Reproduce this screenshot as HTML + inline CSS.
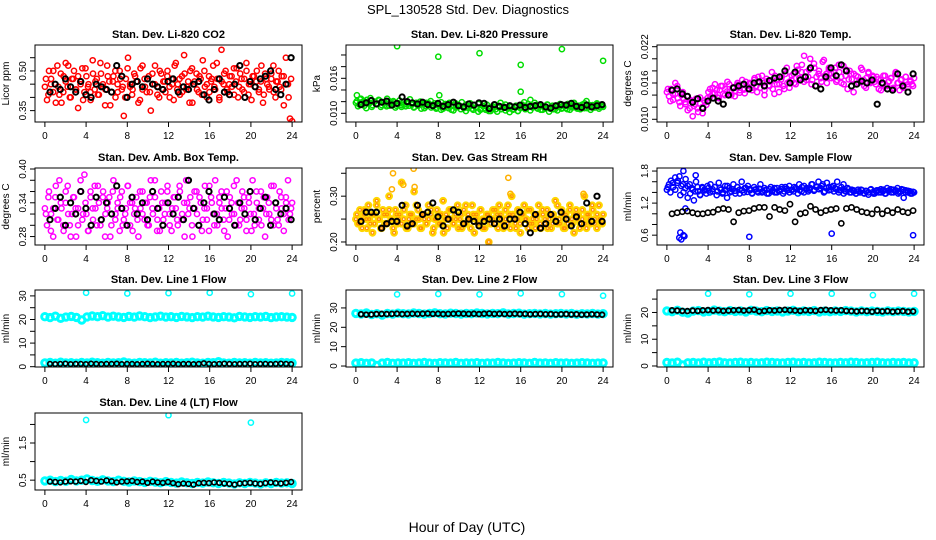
<!DOCTYPE html>
<html><head><meta charset="utf-8"><title>SPL_130528 Std. Dev. Diagnostics</title>
<style>
html,body{margin:0;padding:0;background:#fff;}
svg{display:block;font-family:"Liberation Sans",Arial,sans-serif;}
</style></head>
<body>
<svg id="chart" width="936" height="540" viewBox="0 0 936 540" xmlns="http://www.w3.org/2000/svg">
<rect x="0" y="0" width="936" height="540" fill="#fff"/>
<text x="468" y="14" font-size="13" text-anchor="middle">SPL_130528  Std. Dev. Diagnostics</text>
<text x="467" y="532" font-size="14" text-anchor="middle">Hour of Day (UTC)</text>
</svg>
<script>
// ---------- data ----------
const xTicks = [0,4,8,12,16,20,24];

const co2Red = [0.44,0.39,0.50,0.47,0.42,0.45,0.52,0.41,0.38,0.48,0.53,0.44,0.40,0.47,0.50,0.43,0.36,0.46,0.51,0.42,0.48,0.45,0.39,0.54,0.43,0.47,0.41,0.49,0.44,0.37,0.52,0.46,0.42,0.48,0.40,0.45,0.50,0.43,0.33,0.47,0.55,0.44,0.41,0.49,0.46,0.38,0.51,0.43,0.47,0.42,0.48,0.35,0.45,0.52,0.44,0.40,0.49,0.46,0.42,0.50,0.44,0.47,0.39,0.53,0.45,0.41,0.48,0.56,0.43,0.46,0.50,0.38,0.45,0.49,0.42,0.47,0.54,0.44,0.40,0.48,0.46,0.52,0.43,0.47,0.39,0.58,0.45,0.50,0.42,0.48,0.44,0.51,0.46,0.40,0.49,0.43,0.47,0.53,0.41,0.45,0.48,0.44,0.50,0.42,0.46,0.38,0.49,0.45,0.43,0.47,0.52,0.40,0.46,0.44,0.48,0.37,0.55,0.45,0.32,0.31];
const co2Red2 = [0.47,0.41,0.45,0.50,0.38,0.44,0.49,0.42,0.46,0.52,0.40,0.47,0.43,0.48,0.45,0.39,0.51,0.44,0.42,0.49,0.46,0.41,0.53,0.45,0.43,0.48,0.37,0.46,0.50,0.42,0.47,0.44,0.40,0.51,0.45,0.43,0.48,0.46,0.39,0.52,0.44,0.47,0.42,0.49,0.45,0.41,0.50,0.43,0.46,0.48,0.40,0.45,0.52,0.43,0.47,0.42,0.49,0.44,0.38,0.51,0.46,0.43,0.48,0.41,0.50,0.45,0.42,0.47,0.44,0.53,0.40,0.46,0.49,0.43,0.45,0.48,0.41,0.51,0.44,0.47,0.42,0.50,0.45,0.39,0.48,0.46,0.43,0.52,0.41,0.47,0.44,0.49,0.42,0.46,0.50,0.43,0.48,0.45,0.40,0.47];
const co2Black = [0.42,0.45,0.43,0.47,0.44,0.42,0.46,0.41,0.40,0.45,0.44,0.43,0.42,0.52,0.48,0.40,0.45,0.46,0.44,0.47,0.45,0.44,0.43,0.46,0.47,0.42,0.44,0.43,0.45,0.46,0.41,0.39,0.43,0.47,0.42,0.41,0.45,0.52,0.40,0.46,0.44,0.47,0.48,0.50,0.43,0.41,0.45,0.55];

const presGreen = [0.0118,0.0112,0.0124,0.0116,0.0121,0.0109,0.0119,0.0126,0.0114,0.0120,0.0117,0.0123,0.0111,0.0119,0.0115,0.0125,0.0113,0.0118,0.0121,0.0110,0.0116,0.0122,0.0114,0.0119,0.0112,0.0117,0.0124,0.0115,0.0111,0.0118,0.0113,0.0120,0.0116,0.0109,0.0118,0.0114,0.0121,0.0112,0.0117,0.0110,0.0115,0.0119,0.0108,0.0116,0.0112,0.0118,0.0106,0.0114,0.0117,0.0111,0.0113,0.0119,0.0109,0.0115,0.0112,0.0117,0.0108,0.0114,0.0110,0.0116,0.0106,0.0113,0.0109,0.0115,0.0104,0.0111,0.0108,0.0114,0.0103,0.0110,0.0107,0.0112,0.0105,0.0109,0.0102,0.0111,0.0107,0.0113,0.0104,0.0110,0.0115,0.0119,0.0108,0.0116,0.0123,0.0112,0.0118,0.0110,0.0114,0.0106,0.0112,0.0108,0.0115,0.0103,0.0110,0.0107,0.0113,0.0105,0.0111,0.0108,0.0114,0.0109,0.0116,0.0106,0.0112,0.0118,0.0110,0.0113,0.0107,0.0115,0.0109,0.0121,0.0111,0.0106,0.0114,0.0110,0.0117,0.0108,0.0113,0.0111];
const presGreen2 = [0.0121,0.0115,0.0119,0.0113,0.0123,0.0117,0.0111,0.0120,0.0116,0.0122,0.0114,0.0118,0.0112,0.0121,0.0116,0.0119,0.0113,0.0117,0.0111,0.0115,0.0119,0.0113,0.0116,0.0110,0.0118,0.0114,0.0108,0.0116,0.0112,0.0117,0.0110,0.0114,0.0108,0.0113,0.0106,0.0111,0.0115,0.0109,0.0112,0.0105,0.0110,0.0114,0.0107,0.0111,0.0104,0.0109,0.0113,0.0106,0.0110,0.0103,0.0108,0.0112,0.0106,0.0109,0.0104,0.0111,0.0107,0.0113,0.0118,0.0110,0.0115,0.0108,0.0112,0.0106,0.0110,0.0104,0.0109,0.0113,0.0107,0.0111,0.0105,0.0110,0.0114,0.0108,0.0112,0.0106,0.0111,0.0115,0.0108,0.0113,0.0107,0.0111,0.0116,0.0109,0.0113,0.0107,0.0112,0.0110,0.0115,0.0108,0.0113,0.0111,0.0117,0.0109,0.0114,0.0110,0.0112,0.0116,0.0111,0.0113];
const presBlack = [0.0115,0.0118,0.0122,0.0116,0.0119,0.0121,0.0114,0.0117,0.0128,0.0120,0.0118,0.0116,0.0119,0.0115,0.0113,0.0117,0.0112,0.0115,0.0119,0.0113,0.0111,0.0116,0.0114,0.0118,0.0117,0.0108,0.0115,0.0112,0.0110,0.0113,0.0111,0.0114,0.0110,0.0112,0.0113,0.0115,0.0111,0.0109,0.0113,0.0115,0.0114,0.0117,0.0112,0.0110,0.0114,0.0111,0.0113,0.0115];
const presOutHours = [0.1,0.5,4,8,8.1,12,16,16,20,24];
const presOutVals = [0.0131,0.0125,0.0215,0.0197,0.0131,0.0203,0.0183,0.0137,0.0210,0.0190];

const tempMag = [0.0145,0.0138,0.0150,0.0132,0.0142,0.0155,0.0128,0.0140,0.0135,0.0125,0.0138,0.0118,0.0130,0.0122,0.0134,0.0112,0.0126,0.0120,0.0131,0.0124,0.0145,0.0138,0.0152,0.0143,0.0148,0.0135,0.0155,0.0142,0.0150,0.0146,0.0158,0.0140,0.0153,0.0147,0.0160,0.0144,0.0156,0.0149,0.0162,0.0151,0.0158,0.0148,0.0165,0.0155,0.0170,0.0152,0.0160,0.0140,0.0167,0.0156,0.0162,0.0150,0.0172,0.0158,0.0145,0.0166,0.0155,0.0175,0.0160,0.0152,0.0165,0.0175,0.0158,0.0182,0.0168,0.0190,0.0162,0.0178,0.0170,0.0200,0.0165,0.0185,0.0155,0.0175,0.0168,0.0195,0.0172,0.0160,0.0182,0.0176,0.0170,0.0185,0.0165,0.0178,0.0160,0.0188,0.0172,0.0150,0.0180,0.0166,0.0175,0.0158,0.0170,0.0164,0.0182,0.0155,0.0168,0.0176,0.0160,0.0172,0.0162,0.0170,0.0150,0.0165,0.0158,0.0172,0.0155,0.0163,0.0168,0.0152,0.0175,0.0160,0.0148,0.0166,0.0157,0.0170,0.0153,0.0162,0.0158,0.0168];
const tempMag2 = [0.0150,0.0130,0.0142,0.0160,0.0135,0.0122,0.0145,0.0128,0.0115,0.0132,0.0105,0.0125,0.0118,0.0136,0.0110,0.0128,0.0135,0.0150,0.0142,0.0158,0.0136,0.0148,0.0155,0.0140,0.0162,0.0145,0.0152,0.0138,0.0157,0.0148,0.0165,0.0143,0.0155,0.0160,0.0152,0.0168,0.0145,0.0160,0.0172,0.0148,0.0163,0.0155,0.0178,0.0142,0.0165,0.0158,0.0170,0.0150,0.0185,0.0162,0.0172,0.0160,0.0188,0.0168,0.0178,0.0205,0.0165,0.0182,0.0158,0.0192,0.0170,0.0180,0.0162,0.0198,0.0175,0.0185,0.0168,0.0178,0.0162,0.0190,0.0170,0.0158,0.0182,0.0166,0.0175,0.0145,0.0172,0.0160,0.0185,0.0165,0.0152,0.0178,0.0162,0.0170,0.0158,0.0166,0.0148,0.0172,0.0155,0.0162,0.0168,0.0150,0.0178,0.0160,0.0165,0.0152,0.0170,0.0158,0.0164,0.0155];
const tempBlack = [0.0148,0.0150,0.0142,0.0138,0.0128,0.0134,0.0118,0.0130,0.0135,0.0130,0.0125,0.0140,0.0152,0.0155,0.0158,0.0150,0.0160,0.0162,0.0155,0.0164,0.0168,0.0170,0.0180,0.0160,0.0178,0.0165,0.0170,0.0185,0.0155,0.0150,0.0170,0.0185,0.0172,0.0190,0.0180,0.0155,0.0158,0.0163,0.0160,0.0165,0.0125,0.0160,0.0150,0.0148,0.0175,0.0155,0.0145,0.0175];

const ambMag = [0.33,0.30,0.36,0.32,0.28,0.35,0.31,0.38,0.33,0.29,0.34,0.37,0.30,0.32,0.35,0.28,0.33,0.36,0.31,0.39,0.32,0.29,0.35,0.33,0.37,0.30,0.34,0.31,0.36,0.28,0.33,0.35,0.30,0.38,0.32,0.34,0.29,0.36,0.31,0.33,0.37,0.30,0.34,0.32,0.35,0.28,0.33,0.36,0.31,0.34,0.30,0.38,0.32,0.35,0.29,0.33,0.36,0.31,0.34,0.37,0.32,0.29,0.35,0.33,0.30,0.36,0.31,0.34,0.38,0.32,0.35,0.28,0.33,0.36,0.30,0.34,0.31,0.37,0.33,0.29,0.35,0.32,0.38,0.30,0.34,0.36,0.31,0.33,0.28,0.35,0.32,0.37,0.30,0.34,0.31,0.36,0.33,0.29,0.35,0.32,0.38,0.30,0.34,0.31,0.36,0.33,0.28,0.35,0.32,0.37,0.30,0.34,0.31,0.36,0.33,0.29,0.35,0.38,0.32,0.34];
const ambMag2 = [0.32,0.35,0.29,0.33,0.37,0.31,0.34,0.30,0.36,0.32,0.28,0.35,0.33,0.30,0.38,0.32,0.34,0.29,0.36,0.31,0.33,0.37,0.30,0.35,0.32,0.34,0.28,0.36,0.31,0.33,0.35,0.30,0.32,0.37,0.34,0.29,0.33,0.31,0.36,0.32,0.34,0.30,0.35,0.33,0.38,0.31,0.29,0.34,0.32,0.36,0.30,0.33,0.35,0.31,0.37,0.32,0.28,0.34,0.33,0.30,0.36,0.32,0.35,0.29,0.33,0.31,0.37,0.34,0.30,0.32,0.35,0.33,0.29,0.36,0.31,0.34,0.32,0.38,0.30,0.33,0.35,0.31,0.34,0.29,0.32,0.36,0.33,0.30,0.35,0.32,0.34,0.31,0.37,0.33,0.30,0.35,0.32,0.34,0.31,0.33];
const ambBlack = [0.31,0.33,0.35,0.30,0.34,0.32,0.36,0.33,0.30,0.35,0.31,0.34,0.32,0.37,0.33,0.30,0.35,0.32,0.34,0.31,0.36,0.33,0.30,0.34,0.32,0.35,0.31,0.38,0.33,0.30,0.34,0.36,0.32,0.31,0.35,0.33,0.30,0.34,0.32,0.36,0.31,0.33,0.35,0.30,0.34,0.32,0.33,0.31];

const rhOrange = [0.25,0.24,0.27,0.23,0.26,0.25,0.28,0.24,0.22,0.26,0.29,0.25,0.23,0.27,0.24,0.26,0.30,0.25,0.23,0.27,0.24,0.26,0.33,0.25,0.28,0.23,0.26,0.24,0.31,0.25,0.27,0.23,0.26,0.25,0.24,0.28,0.26,0.22,0.25,0.27,0.24,0.26,0.29,0.25,0.23,0.27,0.25,0.24,0.26,0.28,0.25,0.23,0.27,0.24,0.26,0.25,0.28,0.22,0.26,0.24,0.27,0.25,0.23,0.26,0.20,0.25,0.27,0.24,0.26,0.28,0.25,0.23,0.27,0.24,0.26,0.30,0.25,0.23,0.27,0.24,0.26,0.28,0.25,0.23,0.27,0.24,0.26,0.25,0.28,0.23,0.26,0.24,0.27,0.25,0.23,0.26,0.29,0.24,0.25,0.27,0.23,0.26,0.24,0.28,0.25,0.22,0.27,0.26,0.24,0.25,0.30,0.23,0.26,0.24,0.27,0.25,0.23,0.28,0.25,0.26];
const rhOrange2 = [0.26,0.24,0.25,0.27,0.23,0.25,0.26,0.24,0.28,0.25,0.23,0.26,0.24,0.27,0.25,0.22,0.26,0.25,0.24,0.27,0.23,0.25,0.26,0.24,0.28,0.25,0.23,0.26,0.24,0.25,0.27,0.23,0.25,0.26,0.24,0.22,0.26,0.25,0.27,0.24,0.25,0.23,0.26,0.24,0.28,0.25,0.23,0.26,0.25,0.24,0.27,0.23,0.25,0.26,0.24,0.25,0.27,0.23,0.26,0.24,0.25,0.28,0.23,0.26,0.24,0.25,0.22,0.26,0.25,0.27,0.24,0.25,0.23,0.26,0.24,0.27,0.25,0.23,0.26,0.24,0.25,0.28,0.24,0.26,0.23,0.25,0.27,0.24,0.26,0.25,0.23,0.27,0.24,0.26,0.25,0.28,0.24,0.26,0.25,0.24];
const rhBlack = [0.245,0.265,0.265,0.265,0.23,0.24,0.245,0.245,0.28,0.235,0.24,0.28,0.26,0.265,0.285,0.255,0.235,0.25,0.27,0.265,0.24,0.25,0.245,0.235,0.245,0.25,0.24,0.25,0.235,0.25,0.25,0.265,0.24,0.22,0.26,0.23,0.24,0.26,0.245,0.265,0.25,0.235,0.255,0.24,0.285,0.245,0.30,0.245];
const rhOutHours = [3.6,3.5,4.6,5.6,5.7,14.8,15.0,22.1,12.9];
const rhOutVals = [0.35,0.315,0.325,0.36,0.32,0.34,0.305,0.305,0.20];

const flowBlue = [1.45,1.55,1.62,1.50,1.68,1.58,1.70,1.52,1.40,1.65,1.30,1.55,1.48,1.25,1.60,1.42,1.35,1.50,1.45,1.38,1.48,1.55,1.42,1.50,1.35,1.58,1.45,1.40,1.52,1.30,1.48,1.42,1.55,1.38,1.50,1.45,1.60,1.40,1.48,1.52,1.44,1.38,1.50,1.46,1.40,1.55,1.42,1.48,1.45,1.38,1.50,1.44,1.40,1.48,1.42,1.46,1.38,1.50,1.44,1.40,1.45,1.42,1.48,1.38,1.44,1.50,1.40,1.46,1.42,1.48,1.55,1.45,1.50,1.60,1.48,1.55,1.42,1.58,1.50,1.45,1.52,1.48,1.60,1.44,1.50,1.55,1.42,1.48,1.40,1.45,1.42,1.38,1.45,1.40,1.44,1.38,1.42,1.36,1.45,1.40,1.38,1.44,1.40,1.46,1.42,1.38,1.48,1.44,1.40,1.45,1.42,1.48,1.40,1.46,1.30,1.44,1.40,1.42,1.38,1.40];
const flowBlue2 = [1.50,1.40,1.58,1.45,1.62,1.35,1.55,1.48,1.52,1.38,1.45,1.42,1.50,1.36,1.48,1.44,1.52,1.40,1.46,1.50,1.42,1.48,1.38,1.45,1.52,1.40,1.46,1.43,1.50,1.38,1.44,1.48,1.41,1.46,1.39,1.45,1.42,1.47,1.40,1.44,1.38,1.46,1.42,1.48,1.40,1.44,1.50,1.42,1.47,1.52,1.44,1.50,1.46,1.55,1.42,1.52,1.48,1.45,1.55,1.43,1.50,1.46,1.52,1.40,1.48,1.44,1.50,1.42,1.46,1.40,1.44,1.38,1.42,1.46,1.40,1.44,1.38,1.42,1.45,1.39,1.43,1.40,1.46,1.38,1.42,1.44,1.40,1.45,1.38,1.43,1.46,1.40,1.44,1.38,1.42,1.45,1.40,1.43,1.38,1.41];
const flowBlack = [1.0,1.02,1.04,1.05,1.02,1.0,1.0,1.02,1.03,1.08,1.10,1.08,0.85,1.02,1.05,1.06,1.10,1.12,1.12,0.95,1.12,1.08,1.06,1.18,0.85,1.0,1.02,1.14,1.08,1.02,1.06,1.08,1.10,0.82,1.10,1.12,1.08,1.04,1.02,1.0,1.08,1.0,1.06,1.02,1.08,1.04,1.02,1.06];
const flowOutHours = [1.2,1.3,1.4,1.6,1.7,8.0,16.0,23.9,1.6,2.8,1.8];
const flowOutVals = [0.55,0.65,0.52,0.60,0.58,0.57,0.63,0.60,1.80,1.72,1.10];

const l1Top = [21.2,20.8,21.4,20.5,21.0,21.3,20.9,19.8,21.1,21.5,21.2,21.6,21.0,21.4,21.1,20.9,21.3,21.0,21.5,21.2,20.8,21.1,21.4,21.0,21.2,20.9,21.3,21.1,20.8,21.2,21.0,21.4,21.1,20.9,21.2,21.0,20.7,21.3,21.1,20.9,21.2,21.0,21.3,20.8,21.1,21.2,21.0,20.9];
const l1Bottom = [1.6,1.8,1.5,1.9,1.6,1.7,1.5,1.8,1.6,1.9,1.7,1.5,1.8,1.6,1.7,2.0,1.6,1.5,1.8,1.7,1.6,1.9,1.5,1.7,1.6,1.8,1.5,1.7,1.9,1.6,1.5,1.8,1.7,2.1,1.6,1.5,1.8,1.6,1.7,1.5,1.8,1.6,1.7,1.5,1.6,1.8,1.7,1.6];
const l1Black = [1.2,1.1,1.2,1.3,1.1,1.2,1.2,1.1,1.3,1.2,1.1,1.2,1.2,1.3,1.1,1.2,1.2,1.1,1.2,1.3,1.2,1.1,1.2,1.2,1.3,1.1,1.2,1.2,1.1,1.2,1.5,1.2,1.1,1.2,1.3,1.2,1.1,1.2,1.2,1.3,1.1,1.2,1.2,1.1,1.2,1.3,1.2,1.1];
const l1OutHours = [4,8,12,16,20,24];
const l1OutVals = [31.3,31.0,31.2,31.3,30.7,31.0];

const l2Top = [27.2,26.9,27.4,26.6,27.0,26.3,27.1,26.8,27.3,27.0,26.9,27.4,27.1,26.8,27.2,27.5,27.0,26.9,27.3,27.1,26.8,27.2,27.0,27.4,27.1,26.9,27.2,27.0,27.5,26.9,27.1,27.3,26.8,27.0,27.2,26.9,27.1,26.8,27.0,27.2,26.9,27.1,26.7,27.0,26.9,27.1,26.8,27.0];
const l2Bottom = [1.5,1.7,1.4,1.6,0.3,1.5,1.8,1.4,1.6,1.5,1.7,1.4,1.6,1.8,1.5,1.4,1.7,1.6,1.5,1.8,1.4,1.6,1.5,1.7,1.4,1.6,1.5,1.8,1.6,1.4,1.5,1.7,1.6,1.4,1.8,1.5,1.6,1.4,1.7,1.5,1.6,1.4,1.5,1.7,1.6,1.4,1.5,1.6];
const l2Black = [26.7,26.5,26.6,26.8,26.9,26.8,26.9,27.0,26.8,26.9,27.0,26.9,27.0,27.1,26.9,27.0,26.8,26.9,27.0,27.1,27.0,26.9,27.0,26.8,27.0,27.1,26.9,27.0,26.8,26.9,27.0,26.8,26.9,26.7,26.8,26.9,26.7,26.8,26.6,26.7,26.8,26.6,26.7,26.5,26.6,26.7,26.6,26.5];
const l2OutHours = [4,8,12,16,20,24];
const l2OutVals = [37.0,37.2,37.0,37.5,37.1,36.3];

const l3Top = [20.6,20.3,20.8,20.1,19.8,20.5,20.7,20.2,20.4,20.9,20.5,20.3,20.7,20.4,20.6,20.2,20.8,20.5,20.3,20.7,20.4,20.6,20.2,20.5,20.8,20.3,20.6,20.4,20.7,20.2,20.5,20.3,20.6,20.4,20.7,20.5,20.2,20.6,20.3,20.5,20.4,20.2,20.6,20.3,20.5,20.4,20.2,20.4];
const l3Bottom = [1.3,1.1,1.4,0.4,1.2,1.3,1.1,1.4,1.2,1.3,1.5,1.2,1.1,1.3,1.4,1.2,1.3,1.1,1.2,1.4,1.3,1.2,1.1,1.3,1.4,1.2,1.3,1.1,1.2,1.4,1.3,1.2,1.1,1.3,1.2,1.4,1.3,1.1,1.2,1.3,1.4,1.2,1.1,1.3,1.2,1.3,1.1,1.2];
const l3Black = [20.8,20.7,20.6,20.5,20.7,20.6,20.8,20.9,20.7,20.8,20.6,20.7,20.8,20.9,20.7,20.8,21.0,20.4,20.6,20.8,20.7,20.9,21.0,20.8,20.7,20.6,20.8,20.7,20.6,20.9,21.0,20.8,20.7,20.8,20.6,20.5,20.4,20.6,20.5,20.3,20.6,20.4,20.5,20.3,20.4,20.5,20.3,20.4];
const l3OutHours = [4,8,12,16,20,24];
const l3OutVals = [27.0,26.8,27.0,27.0,26.5,27.0];

const l4Cyan = [0.48,0.50,0.46,0.49,0.47,0.52,0.48,0.50,0.53,0.49,0.47,0.51,0.48,0.46,0.50,0.47,0.45,0.48,0.46,0.44,0.47,0.45,0.43,0.46,0.44,0.42,0.45,0.43,0.41,0.44,0.42,0.45,0.43,0.41,0.44,0.42,0.40,0.43,0.41,0.44,0.42,0.40,0.43,0.41,0.44,0.42,0.43,0.41];
const l4Black = [0.46,0.45,0.44,0.46,0.47,0.46,0.48,0.45,0.50,0.48,0.46,0.49,0.47,0.44,0.46,0.47,0.48,0.45,0.46,0.43,0.46,0.44,0.43,0.45,0.42,0.39,0.41,0.40,0.38,0.42,0.43,0.42,0.44,0.43,0.41,0.40,0.38,0.41,0.42,0.43,0.41,0.40,0.42,0.44,0.42,0.41,0.43,0.45];
const l4OutHours = [4,12,20];
const l4OutVals = [2.12,2.25,2.05];

// ---------- layout ----------
const NS = 'http://www.w3.org/2000/svg';
const svg = document.getElementById('chart');
const colLeft = [35,346,657];
const rowTop = [45,168,290,413];
const PW = 267, PH = 77;
const XMIN = -0.96, XMAX = 24.96;

function mk(tag, attrs, parent){
  const e = document.createElementNS(NS, tag);
  for (const k in attrs) e.setAttribute(k, attrs[k]);
  (parent||svg).appendChild(e);
  return e;
}

function panel(cfg){
  const L = colLeft[cfg.col], T = rowTop[cfg.row];
  const g = mk('g', {});
  
  
  const sx = v => L + (v - XMIN) / (XMAX - XMIN) * PW;
  const sy = v => T + PH - (v - cfg.ymin) / (cfg.ymax - cfg.ymin) * PH;

  const clip = 'clip-' + cfg.name;
  const cp = mk('clipPath', {id: clip}, g);
  mk('rect', {x: L, y: T, width: PW, height: PH}, cp);
  const marks = mk('g', {'clip-path': 'url(#' + clip + ')'}, g);
  
  

  function series(vals, hoursArr, color, r, sw, sname){
    const sg = mk('g', {fill: 'none', stroke: color, 'stroke-width': sw}, marks);
    
    
    vals.forEach((v, i) => {
      const h = hoursArr[i];
      const c = mk('circle', {cx: sx(h).toFixed(1), cy: sy(v).toFixed(1), r: r}, sg);
      
      
    });
  }
  const hoursFor = (n, a, b) => Array.from({length: n}, (_, i) => a + i * (b - a) / (n - 1));

  cfg.series.forEach(s => {
    const hrs = s.hours || hoursFor(s.vals.length, s.h0, s.h1);
    series(s.vals, hrs, s.color, s.r || 2.6, s.sw || 1.5, s.sname);
  });

  const box = mk('rect', {x: L, y: T, width: PW, height: PH, fill: 'none', stroke: '#000', 'stroke-width': 1}, g);
  
  

  const xa = mk('g', {stroke: '#000', 'stroke-width': 1}, g);
  
  
  xTicks.forEach(t => {
    const x = sx(t);
    mk('line', {x1: x, y1: T + PH, x2: x, y2: T + PH + 5}, xa);
    const tx = mk('text', {x: x, y: T + PH + 17, 'font-size': 10, 'text-anchor': 'middle', stroke: 'none', fill: '#000'}, xa);
    tx.textContent = t;
    
    
  });
  const ya = mk('g', {stroke: '#000', 'stroke-width': 1}, g);
  
  
  cfg.yTicks.forEach(t => {
    const y = sy(t);
    mk('line', {x1: L - 5, y1: y, x2: L, y2: y}, ya);
  });
  cfg.yLabels.forEach((lab, i) => {
    const y = sy(cfg.yLabelVals[i]);
    const tx = mk('text', {x: 0, y: 0, 'font-size': 10, 'text-anchor': 'middle', stroke: 'none', fill: '#000',
      transform: 'translate(' + (L - 9) + ',' + y.toFixed(1) + ') rotate(-90)'}, ya);
    tx.textContent = lab;
    
    
  });
  const yt = mk('text', {x: 0, y: 0, 'font-size': 10, 'text-anchor': 'middle', fill: '#000',
    transform: 'translate(' + (L - 26) + ',' + (T + PH / 2) + ') rotate(-90)'}, g);
  yt.textContent = cfg.ylab;
  
  

  const tt = mk('text', {x: L + PW / 2, y: T - 7, 'font-size': 11, 'font-weight': 'bold', 'text-anchor': 'middle', fill: '#000'}, g);
  tt.textContent = cfg.title;
  
  
}

const CY = '#00ffff';
panel({name:'co2-panel', col:0, row:0, title:'Stan. Dev. Li-820 CO2', ylab:'Licor ppm', ymin:0.307, ymax:0.598,
  yTicks:[0.35,0.40,0.45,0.50,0.55], yLabels:['0.35','0.50'], yLabelVals:[0.35,0.50],
  series:[{vals:co2Red, h0:0, h1:24, color:'#ff0000', sname:'co2-red-series'},
          {vals:co2Red2, h0:0.1, h1:23.9, color:'#ff0000', sname:'co2-red-series-b'},
          {vals:co2Black, h0:0.5, h1:23.9, color:'#000', sw:2, sname:'co2-black-series'}]});
panel({name:'pressure-panel', col:1, row:0, title:'Stan. Dev. Li-820 Pressure', ylab:'kPa', ymin:0.00851, ymax:0.02171,
  yTicks:[0.010,0.012,0.014,0.016,0.018,0.020], yLabels:['0.010','0.016'], yLabelVals:[0.010,0.016],
  series:[{vals:presGreen, h0:0, h1:24, color:'#00dd00', sname:'pressure-green-series'},
          {vals:presGreen2, h0:0.1, h1:23.9, color:'#00dd00', sname:'pressure-green-series-b'},
          {vals:presOutVals, hours:presOutHours, color:'#00dd00', sname:'pressure-outliers'},
          {vals:presBlack, h0:0.5, h1:23.9, color:'#000', sw:2, sname:'pressure-black-series'}]});
panel({name:'temp-panel', col:2, row:0, title:'Stan. Dev. Li-820 Temp.', ylab:'degrees C', ymin:0.00955, ymax:0.02228,
  yTicks:[0.010,0.012,0.014,0.016,0.018,0.020,0.022], yLabels:['0.010','0.016','0.022'], yLabelVals:[0.010,0.016,0.022],
  series:[{vals:tempMag, h0:0, h1:24, color:'#ff00ff', sname:'temp-magenta-series'},
          {vals:tempMag2, h0:0.1, h1:23.9, color:'#ff00ff', sname:'temp-magenta-series-b'},
          {vals:tempBlack, h0:0.5, h1:23.9, color:'#000', sw:2, sname:'temp-black-series'}]});
panel({name:'ambbox-panel', col:0, row:1, title:'Stan. Dev. Amb. Box Temp.', ylab:'degrees C', ymin:0.265, ymax:0.4018,
  yTicks:[0.28,0.30,0.32,0.34,0.36,0.38,0.40], yLabels:['0.28','0.34','0.40'], yLabelVals:[0.28,0.34,0.40],
  series:[{vals:ambMag, h0:0, h1:24, color:'#ff00ff', sname:'ambbox-magenta-series'},
          {vals:ambMag2, h0:0.1, h1:23.9, color:'#ff00ff', sname:'ambbox-magenta-series-b'},
          {vals:ambBlack, h0:0.5, h1:23.9, color:'#000', sw:2, sname:'ambbox-black-series'}]});
panel({name:'rh-panel', col:1, row:1, title:'Stan. Dev. Gas Stream RH', ylab:'percent', ymin:0.1934, ymax:0.3615,
  yTicks:[0.20,0.25,0.30,0.35], yLabels:['0.20','0.30'], yLabelVals:[0.20,0.30],
  series:[{vals:rhOrange, h0:0, h1:24, color:'#ffd700', r:2.8, sw:2.2, sname:'rh-yellow-series'},
          {vals:rhOrange2, h0:0.1, h1:23.9, color:'#ffd700', r:2.8, sw:2.2, sname:'rh-yellow-series-b'},
          {vals:rhOrange, h0:0, h1:24, color:'#ff8c00', r:1.4, sw:1, sname:'rh-orange-series'},
          {vals:rhOrange2, h0:0.1, h1:23.9, color:'#ff8c00', r:1.4, sw:1, sname:'rh-orange-series-b'},
          {vals:rhOutVals, hours:rhOutHours, color:'#ffb000', sname:'rh-outliers'},
          {vals:rhBlack, h0:0.5, h1:23.9, color:'#000', sw:2, sname:'rh-black-series'}]});
panel({name:'sampleflow-panel', col:2, row:1, title:'Stan. Dev. Sample Flow', ylab:'ml/min', ymin:0.416, ymax:1.857,
  yTicks:[0.6,0.8,1.0,1.2,1.4,1.6,1.8], yLabels:['0.6','1.2','1.8'], yLabelVals:[0.6,1.2,1.8],
  series:[{vals:flowBlue, h0:0, h1:24, color:'#0000ff', sname:'sampleflow-blue-series'},
          {vals:flowBlue2, h0:0.1, h1:23.9, color:'#0000ff', sname:'sampleflow-blue-series-b'},
          {vals:flowOutVals, hours:flowOutHours, color:'#0000ff', sname:'sampleflow-outliers'},
          {vals:flowBlack, h0:0.5, h1:23.9, color:'#000', sw:1.6, sname:'sampleflow-black-series'}]});
panel({name:'line1-panel', col:0, row:2, title:'Stan. Dev. Line 1 Flow', ylab:'ml/min', ymin:-0.13, ymax:32.5,
  yTicks:[0,5,10,15,20,25,30], yLabels:['0','10','20','30'], yLabelVals:[0,10,20,30],
  series:[{vals:l1Top, h0:0, h1:24, color:CY, r:3.2, sw:3, sname:'line1-cyan-upper'},
          {vals:l1Bottom, h0:0, h1:24, color:CY, r:3.2, sw:3, sname:'line1-cyan-lower'},
          {vals:l1OutVals, hours:l1OutHours, color:CY, sname:'line1-outliers'},
          {vals:l1Black, h0:0.5, h1:23.9, color:'#000', sw:1.6, r:2.3, sname:'line1-black-series'}]});
panel({name:'line2-panel', col:1, row:2, title:'Stan. Dev. Line 2 Flow', ylab:'ml/min', ymin:-0.5, ymax:39.26,
  yTicks:[0,10,20,30], yLabels:['0','10','20','30'], yLabelVals:[0,10,20,30],
  series:[{vals:l2Top, h0:0, h1:24, color:CY, r:3.2, sw:3, sname:'line2-cyan-upper'},
          {vals:l2Bottom, h0:0, h1:24, color:CY, r:3.2, sw:3, sname:'line2-cyan-lower'},
          {vals:l2OutVals, hours:l2OutHours, color:CY, sname:'line2-outliers'},
          {vals:l2Black, h0:0.5, h1:23.9, color:'#000', sw:1.8, r:2.4, sname:'line2-black-series'}]});
panel({name:'line3-panel', col:2, row:2, title:'Stan. Dev. Line 3 Flow', ylab:'ml/min', ymin:-0.38, ymax:28.4,
  yTicks:[0,5,10,15,20,25], yLabels:['0','10','20'], yLabelVals:[0,10,20],
  series:[{vals:l3Top, h0:0, h1:24, color:CY, r:3.2, sw:3, sname:'line3-cyan-upper'},
          {vals:l3Bottom, h0:0, h1:24, color:CY, r:3.2, sw:3, sname:'line3-cyan-lower'},
          {vals:l3OutVals, hours:l3OutHours, color:CY, sname:'line3-outliers'},
          {vals:l3Black, h0:0.5, h1:23.9, color:'#000', sw:1.8, r:2.4, sname:'line3-black-series'}]});
panel({name:'line4-panel', col:0, row:3, title:'Stan. Dev. Line 4 (LT) Flow', ylab:'ml/min', ymin:0.235, ymax:2.308,
  yTicks:[0.5,1.0,1.5,2.0], yLabels:['0.5','1.5'], yLabelVals:[0.5,1.5],
  series:[{vals:l4Cyan, h0:0, h1:24, color:CY, r:3.2, sw:3, sname:'line4-cyan-series'},
          {vals:l4OutVals, hours:l4OutHours, color:CY, sname:'line4-outliers'},
          {vals:l4Black, h0:0.5, h1:23.9, color:'#000', sw:1.6, r:2.4, sname:'line4-black-series'}]});
</script>
</body></html>
